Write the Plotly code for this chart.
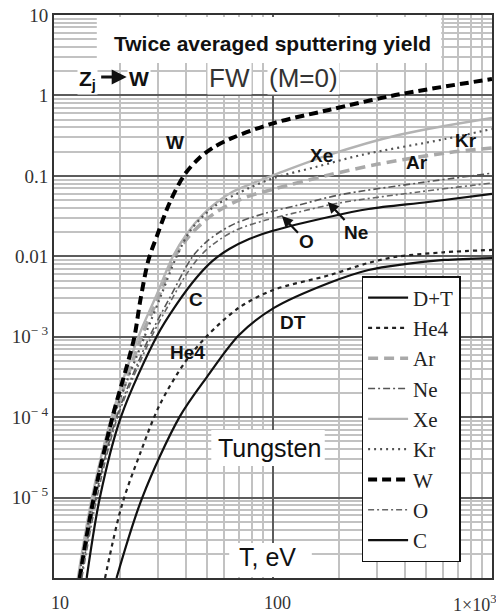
import math
import plotly.graph_objects as go

# Plasma temperature T (eV) and twice-averaged sputtering yield of tungsten
T_DT = [19.3, 25.3, 37.4, 50, 70, 101, 180, 273, 400, 605, 1000]
Y_DT = [1e-6, 1e-5, 1e-4, 3.17e-4, 1.05e-3, 2.28e-3, 4.66e-3, 6.76e-3, 8.0e-3, 9.0e-3, 9.5e-3]

T_HE4 = [17.1, 20.4, 24.6, 30.3, 39.4, 49.6, 70, 100, 180, 270, 360, 600, 1000]
Y_HE4 = [1e-6, 8e-6, 3.4e-5, 1.4e-4, 4.7e-4, 1e-3, 2.3e-3, 3.8e-3, 5.8e-3, 8.2e-3, 9.8e-3, 1.12e-2, 1.2e-2]

T_AR = [13.1, 15.2, 18.9, 25.1, 30.0, 35.5, 41.5, 48.1, 55.1, 65.2, 77.8, 101, 180, 303, 611, 1000]
Y_AR = [1e-6, 1e-5, 1e-4, 1e-3, 3.1e-3, 0.0098, 0.0179, 0.0267, 0.0355, 0.0459, 0.0561, 0.0687,
        0.1025, 0.140, 0.192, 0.222]

T_NE = [13.3, 15.5, 19.3, 27.3, 34.3, 42.8, 49.6, 58.0, 67.9, 92.9, 131, 200, 461, 1000]
Y_NE = [1e-6, 1e-5, 1e-4, 1e-3, 3.3e-3, 0.0098, 0.0151, 0.0206, 0.0259, 0.0345, 0.0434, 0.0578,
        0.0815, 0.108]

T_XE = [12.85, 14.9, 18.3, 24.3, 29.4, 34.8, 40.65, 47.6, 55.6, 65.1, 81.1, 101, 180, 374, 1000]
Y_XE = [1e-6, 1e-5, 1e-4, 1e-3, 3.3e-3, 0.0098, 0.0195, 0.0326, 0.0473, 0.063, 0.0815, 0.1025,
        0.182, 0.322, 0.524]

T_KR = [13.0, 15.1, 18.75, 25.9, 30.6, 36.2, 41.5, 47.5, 55.1, 77.8, 101, 157, 254, 611, 1000]
Y_KR = [1e-6, 1e-5, 1e-4, 1e-3, 3.1e-3, 0.0098, 0.0200, 0.0308, 0.0434, 0.0706, 0.094, 0.129,
        0.182, 0.287, 0.383]

T_W = [13.1, 15.2, 18.5, 21.7, 23.3, 24.8, 27.0, 29.4, 33.7, 39.4, 46.1, 53.9, 65.2, 100, 180, 362, 1000]
Y_W = [1e-6, 1e-5, 1e-4, 4.7e-4, 1e-3, 2.86e-3, 9.0e-3, 0.0174, 0.046, 0.103, 0.167, 0.229, 0.296,
       0.45, 0.66, 1.01, 1.6]

T_O = [13.4, 15.7, 19.5, 27.9, 33.7, 39.8, 46.1, 53.4, 67.9, 92.9, 131, 200, 461, 1000]
Y_O = [1e-6, 1e-5, 1e-4, 1e-3, 2.6e-3, 5.7e-3, 0.0098, 0.0142, 0.0212, 0.0282, 0.0355, 0.0459,
       0.063, 0.0815]

T_C = [14.1, 16.2, 20.2, 29.4, 36.2, 44.7, 52.8, 63.1, 77.8, 99, 180, 273, 512, 1000]
Y_C = [1e-6, 1e-5, 1e-4, 1e-3, 2.5e-3, 5.4e-3, 8.7e-3, 0.0123, 0.0164, 0.0206, 0.0308, 0.0387,
       0.0473, 0.0596]

SERIES_NAMES = ["D+T", "He4", "Ar", "Ne", "Xe", "Kr", "W", "O", "C"]

X_TICK_VALS = [10, 100, 1000]
X_TICK_TEXT = ["10", "100", "1\u00d710<sup>3</sup>"]
Y_TICK_VALS = [1e-5, 1e-4, 1e-3, 0.01, 0.1, 1, 10]
Y_TICK_TEXT = ["10<sup>\u2212 5</sup>", "10<sup>\u2212 4</sup>", "10<sup>\u2212 3</sup>",
               "0.01", "0.1", "1", "10"]

# line styles per series
STYLES = {
    "D+T": dict(color="#111111", width=2.2, dash="solid"),
    "He4": dict(color="#222222", width=2.2, dash="4px,4px"),
    "Ar":  dict(color="#a9a9a9", width=3.6, dash="10px,6px"),
    "Ne":  dict(color="#555555", width=1.6, dash="7px,3px,2px,3px"),
    "Xe":  dict(color="#b3b3b3", width=2.4, dash="solid"),
    "Kr":  dict(color="#555555", width=2.2, dash="2px,4px"),
    "W":   dict(color="#000000", width=4.0, dash="9px,5px"),
    "O":   dict(color="#666666", width=1.6, dash="6px,3px,2px,3px"),
    "C":   dict(color="#111111", width=2.2, dash="solid"),
}
DATA = {
    "D+T": (T_DT, Y_DT), "He4": (T_HE4, Y_HE4), "Ar": (T_AR, Y_AR),
    "Ne": (T_NE, Y_NE), "Xe": (T_XE, Y_XE), "Kr": (T_KR, Y_KR),
    "W": (T_W, Y_W), "O": (T_O, Y_O), "C": (T_C, Y_C),
}

W_FIG, H_FIG = 496, 615
M_L, M_R, M_T, M_B = 54, 2, 15, 37
PW, PH = W_FIG - M_L - M_R, H_FIG - M_T - M_B


def px(x):
    """figure pixel column -> paper x"""
    return (x - M_L) / PW


def py(y):
    """figure pixel row -> paper y"""
    return (H_FIG - M_B - y) / PH


fig = go.Figure()
for name in SERIES_NAMES:
    t, y = DATA[name]
    fig.add_trace(go.Scatter(
        x=t, y=y, name=name, mode="lines",
        line=dict(shape="spline", smoothing=0.9, **STYLES[name]),
        cliponaxis=True,
    ))

SANS = "Liberation Sans"
SERIF = "Liberation Serif"
INK = "#111111"


def label(x, y, text, size, color=INK, family=SANS, **kw):
    d = dict(x=px(x), y=py(y), xref="paper", yref="paper", showarrow=False,
             text=text, xanchor="center", yanchor="middle",
             font=dict(family=family, size=size, color=color))
    d.update(kw)
    return d


annotations = []
# x tick labels
x_shifts = [6, 4, -41]
x_anchors = ["center", "center", "left"]
for v, txt, sh, an in zip(X_TICK_VALS, X_TICK_TEXT, x_shifts, x_anchors):
    annotations.append(dict(x=math.log10(v), xref="x", y=py(603), yref="paper",
                            text=txt, showarrow=False, xanchor=an, yanchor="middle",
                            xshift=sh,
                            font=dict(family=SERIF, size=18, color="#333333")))

# headings inside the plot
annotations += [
    label(273, 44, "<b>Twice averaged sputtering yield</b>", 21),
    label(88, 80, "<b>Z<sub>j</sub></b>", 21, bgcolor="white"),
    dict(x=px(127), y=py(77), xref="paper", yref="paper", showarrow=True,
         text="", ax=-27, ay=0, arrowhead=2, arrowsize=1, arrowwidth=3,
         arrowcolor=INK),
    label(139, 79, "<b>W</b>", 21, bgcolor="white"),
    label(230, 78, "FW", 26, color="#333333", bgcolor="white"),
    label(305, 78, "(M=0)", 26, color="#333333", bgcolor="white"),
    label(270, 448, "Tungsten", 25),
    label(268, 557, "T, eV", 25),
]

# curve labels
curve_labels = [("W", 176, 142), ("Xe", 323, 155), ("Ar", 419, 163), ("Kr", 468, 140),
                ("C", 197, 299), ("He4", 188, 352), ("DT", 294, 323)]
for txt, cx, cy in curve_labels:
    annotations.append(label(cx, cy, f"<b>{txt}</b>", 19))

# labels with pointers
for txt, tipx, tipy, ax, ay in [("O", 283, 216, 25, 26), ("Ne", 329, 202, 28, 30)]:
    annotations.append(dict(x=px(tipx), y=py(tipy), xref="paper", yref="paper",
                            showarrow=True, ax=ax, ay=ay, text=f"<b>{txt}</b>",
                            xanchor="center", yanchor="middle",
                            arrowhead=2, arrowsize=1, arrowwidth=2.2, arrowcolor=INK,
                            font=dict(family=SANS, size=19, color=INK)))

# white panels behind the headings
shapes = [
    dict(type="rect", xref="paper", yref="paper", layer="above",
         x0=px(97), x1=px(443), y0=py(63), y1=py(17),
         fillcolor="white", line=dict(width=0)),
    dict(type="rect", xref="paper", yref="paper", layer="above",
         x0=px(212), x1=px(326), y0=py(466), y1=py(430),
         fillcolor="white", line=dict(width=0)),
    dict(type="rect", xref="paper", yref="paper", layer="above",
         x0=px(230), x1=px(313), y0=py(577), y1=py(543),
         fillcolor="white", line=dict(width=0)),
]

MAJOR_GRID = "#5c5c5c"
MINOR_GRID = "#c2c2c2"

fig.update_layout(
    width=W_FIG, height=H_FIG,
    margin=dict(l=M_L, r=M_R, t=M_T, b=M_B, pad=0),
    paper_bgcolor="white", plot_bgcolor="white",
    annotations=annotations, shapes=shapes,
    legend=dict(
        x=px(363), y=py(276), xanchor="left", yanchor="top",
        bgcolor="white", bordercolor="#111111", borderwidth=1.5,
        font=dict(family=SERIF, size=21, color="#222222"),
        itemwidth=40, tracegroupgap=0,
    ),
    xaxis=dict(
        type="log", range=[1, 3], showticklabels=False, ticks="",
        tickvals=X_TICK_VALS,
        showgrid=True, gridcolor=MAJOR_GRID, gridwidth=2,
        minor=dict(dtick="D1", showgrid=True, gridcolor=MINOR_GRID, gridwidth=2, ticks=""),
        showline=True, linecolor="#333333", linewidth=2, mirror=True,
        zeroline=False,
    ),
    yaxis=dict(
        type="log", range=[-6, 1], ticks="",
        tickvals=Y_TICK_VALS, ticktext=Y_TICK_TEXT,
        tickfont=dict(family=SERIF, size=19, color="#333333"),
        showgrid=True, gridcolor=MAJOR_GRID, gridwidth=2,
        minor=dict(dtick="D1", showgrid=True, gridcolor=MINOR_GRID, gridwidth=2, ticks=""),
        showline=True, linecolor="#333333", linewidth=2, mirror=True,
        zeroline=False,
    ),
)

fig.write_html("out.html")
